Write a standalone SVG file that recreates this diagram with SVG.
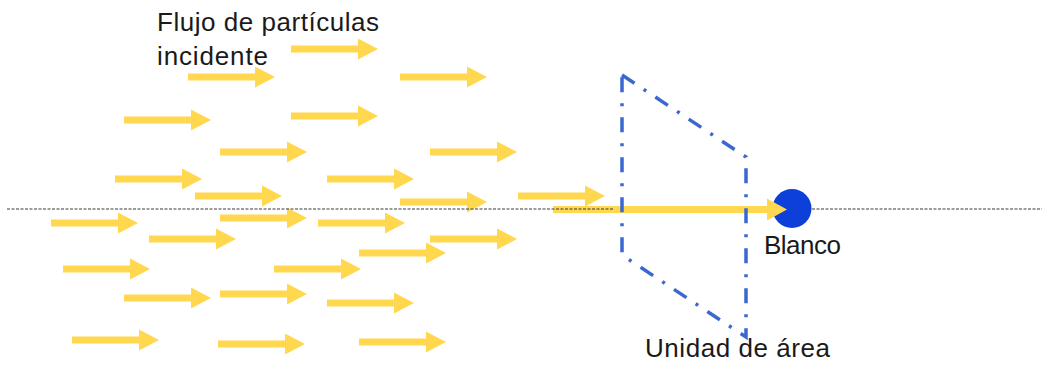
<svg xmlns="http://www.w3.org/2000/svg" xmlns:xlink="http://www.w3.org/1999/xlink" width="1042" height="365" viewBox="0 0 1042 365">
  <style>
    .label { font-family: "Liberation Sans", Arial, sans-serif; font-size: 26px; fill: #1a1a1a; }
    .particle { fill: #FFD84F; }
    .axis { stroke: #3a3a3a; stroke-width: 1.2; stroke-dasharray: 3 1.5; fill: none; }
    .area { stroke: #3A68D0; stroke-width: 3.5; stroke-dasharray: 15 11 3 11; fill: none; stroke-linejoin: miter; }
    .target { fill: #0C40D8; }
  </style>
  <defs>
    <!-- one particle: shaft plus triangular head, origin at shaft start on its centre line -->
    <path id="arr" d="M0,-3.5 H67 V-10.5 L87,0 L67,10.5 V3.5 H0 Z"/>
  </defs>

  <rect width="1042" height="365" fill="#ffffff"/>

  <!-- incident particle flux -->
  <g id="flux" class="particle">
    <use xlink:href="#arr" x="291" y="49"/>
    <use xlink:href="#arr" x="188" y="77"/>
    <use xlink:href="#arr" x="400" y="77"/>
    <use xlink:href="#arr" x="124" y="120"/>
    <use xlink:href="#arr" x="291" y="116"/>
    <use xlink:href="#arr" x="220" y="152"/>
    <use xlink:href="#arr" x="430" y="152"/>
    <use xlink:href="#arr" x="115" y="179"/>
    <use xlink:href="#arr" x="327" y="179"/>
    <use xlink:href="#arr" x="195" y="196"/>
    <use xlink:href="#arr" x="400" y="202"/>
    <use xlink:href="#arr" x="518" y="196"/>
    <use xlink:href="#arr" x="51" y="223"/>
    <use xlink:href="#arr" x="220" y="218"/>
    <use xlink:href="#arr" x="318" y="223"/>
    <use xlink:href="#arr" x="149" y="239"/>
    <use xlink:href="#arr" x="430" y="239"/>
    <use xlink:href="#arr" x="359" y="253"/>
    <use xlink:href="#arr" x="63" y="269"/>
    <use xlink:href="#arr" x="274" y="269"/>
    <use xlink:href="#arr" x="124" y="298"/>
    <use xlink:href="#arr" x="220" y="294"/>
    <use xlink:href="#arr" x="327" y="303"/>
    <use xlink:href="#arr" x="72" y="340"/>
    <use xlink:href="#arr" x="218" y="344"/>
    <use xlink:href="#arr" x="359" y="342"/>
  </g>

  <!-- target particle -->
  <g id="target">
    <circle class="target" cx="792" cy="208.5" r="19.5"/>
  </g>

  <!-- beam axis and the particle that reaches the target -->
  <g id="connectors">
    <path class="particle" d="M553,206 H767 V198.5 L787,209.5 L767,220.5 V213 H553 Z"/>
    <line class="axis" x1="7" y1="209" x2="613" y2="209"/>
    <line class="axis" x1="812" y1="209" x2="1042" y2="209"/>
  </g>

  <!-- unit area crossed by the beam -->
  <g id="unit-area">
    <path class="area" d="M622,75 L746,157 L746,337 L622,255 Z"/>
  </g>

  <g id="labels">
    <text class="label" x="157" y="31" textLength="222" lengthAdjust="spacing">Flujo de partículas</text>
    <text class="label" x="157" y="65" textLength="111" lengthAdjust="spacing">incidente</text>
    <text class="label" x="764" y="254" textLength="77" lengthAdjust="spacing">Blanco</text>
    <text class="label" x="645" y="357" textLength="185" lengthAdjust="spacing">Unidad de área</text>
  </g>
</svg>
